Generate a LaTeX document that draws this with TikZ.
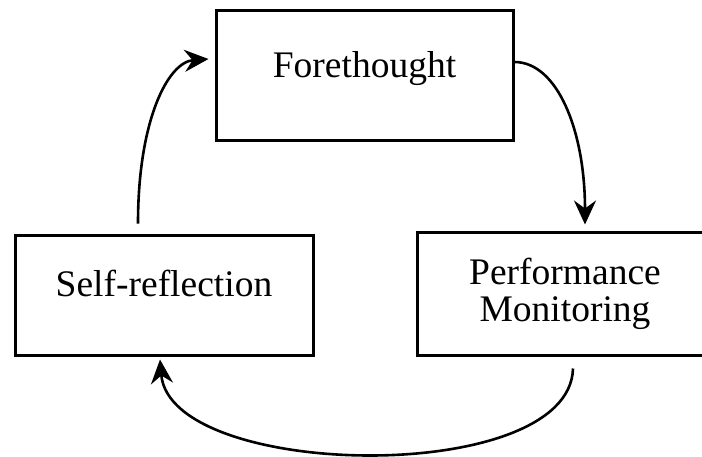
\documentclass[tikz,border=0pt]{standalone}
\usepackage{fontspec}
\setmainfont{Liberation Serif}
\usetikzlibrary{arrows.meta}
\begin{document}
\begin{tikzpicture}[x=1pt,y=-1pt,
  phasebox/.style={draw=black, line width=3pt, fill=white, inner sep=0pt,
    align=center, font=\fontsize{37.5}{37}\selectfont},
  cyclearrow/.style={line width=2.6pt, -{Stealth[length=24pt,width=22pt,inset=8pt]}}]
\useasboundingbox (0,0) rectangle (702,456);
\node[phasebox, minimum width=297pt, minimum height=130pt, text height=24pt, text depth=20pt] (fore) at (364.5,75) {Forethought};
\node[phasebox, minimum width=298pt, minimum height=120pt, text height=22pt, text depth=20pt] (self) at (164,295) {Self-reflection};
\node[phasebox, minimum width=296pt, minimum height=123pt] (perf) at (565,293.5) {Performance\\Monitoring};
\draw[cyclearrow] ([yshift=13pt]fore.east) .. controls (557,62) and (585,130) .. ([xshift=20pt,yshift=6pt]perf.north);
\draw[cyclearrow] ([xshift=8pt,yshift=-12pt]perf.south) .. controls (570,487) and (170,480) .. ([xshift=-4pt,yshift=-3pt]self.south);
\draw[cyclearrow] ([xshift=-26pt,yshift=10pt]self.north) .. controls (138,120) and (168,62) .. ([xshift=-6pt,yshift=16pt]fore.west);
\end{tikzpicture}
\end{document}
